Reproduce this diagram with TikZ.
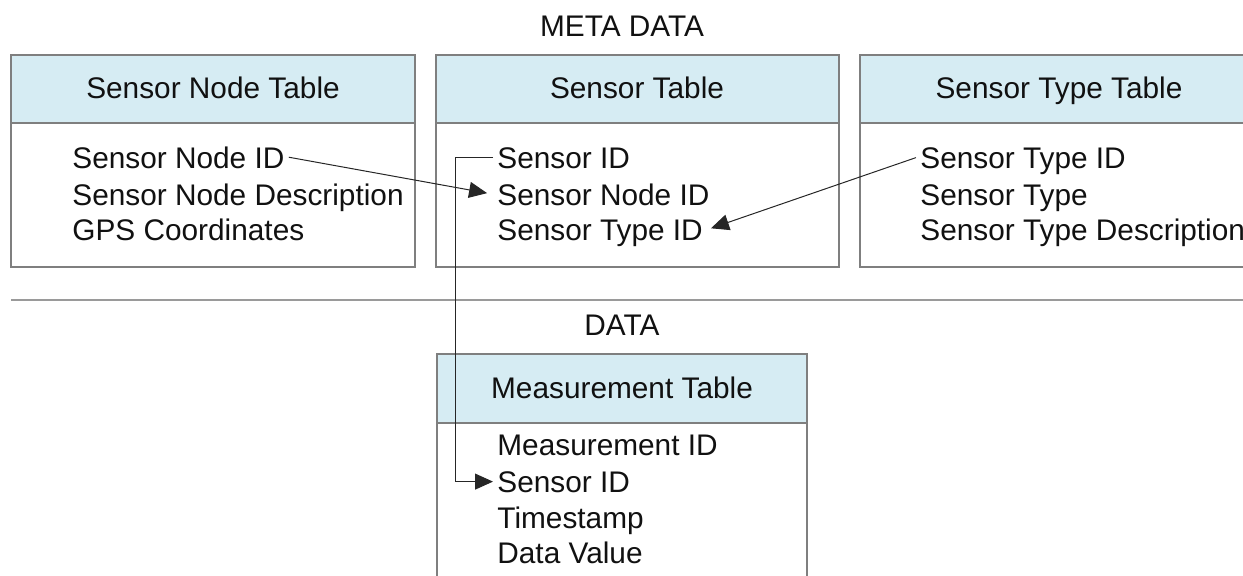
\documentclass[tikz,border=0pt]{standalone}
\usepackage{fontspec}
\setmainfont{Liberation Sans}
\usetikzlibrary{arrows.meta}
\definecolor{hdrfill}{HTML}{D6ECF3}
\definecolor{boxline}{HTML}{7F7F7F}
\definecolor{sepline}{HTML}{9A9A9A}
\definecolor{txt}{HTML}{111111}
\tikzset{
  tbox/.style={draw=boxline, line width=1pt},
  thdr/.style={draw=boxline, line width=1pt, fill=hdrfill},
  lbl/.style={anchor=base, inner sep=0pt, text=txt, font=\fontsize{14.9}{18}\selectfont},
  row/.style={anchor=base west, inner xsep=2pt, inner ysep=0pt, text depth=0pt, text=txt, font=\fontsize{14.9}{18}\selectfont},
  link/.style={draw=black!85, line width=0.5pt, -{Triangle[length=9pt,width=8pt]}},
}
\begin{document}
\begin{tikzpicture}[x=0.5pt, y=-0.5pt]
\useasboundingbox (0,0) rectangle (1243,575);
\clip (0,0) rectangle (1243,575);
% titles
\node[lbl] (meta) at (622,36) {META DATA};
\node[lbl] (data) at (622,335) {DATA};
% separator
\draw[draw=sepline, line width=1pt] (11,300) coordinate (sepL) -- (1250,300) coordinate (sepR);
% box 1
\draw[thdr] (11,55) rectangle (415,123);
\draw[tbox] (11,123) rectangle (415,267);
\node[lbl] (h1) at (213,98) {Sensor Node Table};
\node[row] (b1r1) at (68,168) {Sensor Node ID};
\node[row] (b1r2) at (68,205) {Sensor Node Description};
\node[row] (b1r3) at (68,240) {GPS Coordinates};
% box 2
\draw[thdr] (436,55) rectangle (839,123);
\draw[tbox] (436,123) rectangle (839,267);
\node[lbl] (h2) at (637,98) {Sensor Table};
\node[row] (b2r1) at (493,168) {Sensor ID};
\node[row] (b2r2) at (493,205) {Sensor Node ID};
\node[row] (b2r3) at (493,240) {Sensor Type ID};
% box 3
\draw[thdr] (860,55) rectangle (1260,123);
\draw[tbox] (860,123) rectangle (1260,267);
\node[lbl] (h3) at (1059,98) {Sensor Type Table};
\node[row] (b3r1) at (916,168) {Sensor Type ID};
\node[row] (b3r2) at (916,205) {Sensor Type};
\node[row] (b3r3) at (916,240) {Sensor Type Description};
% box 4
\draw[thdr] (437,354) rectangle (807,423);
\draw[tbox] (437,590) -- (437,423) -- (807,423) -- (807,590);
\node[lbl] (h4) at (622,398) {Measurement Table};
\node[row] (b4r1) at (493,455) {Measurement ID};
\node[row] (b4r2) at (493,492) {Sensor ID};
\node[row] (b4r3) at (493,528) {Timestamp};
\node[row] (b4r4) at (493,563) {Data Value};
% connectors
\draw[link, shorten >=3pt] (b1r1.east) -- (b2r2.west);
\draw[link, shorten >=2pt] (b3r1.west) -- (b2r3.east);
\draw[link] (b2r1.west) -- ++(-38,0) |- (b4r2.west);
\end{tikzpicture}
\end{document}
